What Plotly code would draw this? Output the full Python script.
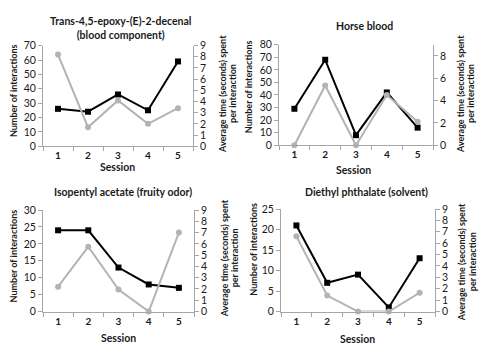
import plotly.graph_objects as go

sessions = ["1", "2", "3", "4", "5"]

titles = [
    "Trans-4,5-epoxy-(E)-2-decenal<br>(blood component)",
    "Horse blood",
    "Isopentyl acetate (fruity odor)",
    "Diethyl phthalate (solvent)",
]

interactions_epoxy = [26, 24, 36, 25, 59]
time_epoxy = [8.2, 1.7, 4.1, 2.0, 3.4]

interactions_horse = [29, 68, 8, 42, 14]
time_horse = [0.0, 5.35, 0.0, 4.5, 2.1]

interactions_isopentyl = [24, 24, 13, 8, 7]
time_isopentyl = [2.2, 5.75, 1.95, 0.0, 7.0]

interactions_diethyl = [21, 7, 9, 1, 13]
time_diethyl = [6.6, 1.4, 0.0, 0.0, 1.65]

left_ranges = [[0, 70], [0, 80], [0, 30], [0, 25]]
left_dticks = [10, 10, 5, 5]
right_dticks = [1, 2, 1, 1]

left_title = "Number of interactions"
right_title_lines = ["Average time (seconds) spent", "per interaction"]
x_title = "Session"

W, H = 483, 362
FONT = "Lato"
TXT = "#1a1a1a"
AX = "#a6a6a6"
BLACK = "#000000"
GREY = "#b3b3b3"

# panel geometry in pixels: (x0, x1, ytop, ybottom)
panels = [
    (43, 193, 41, 145),
    (279, 433, 40, 144),
    (43, 194, 211, 316),
    (281, 435, 210, 316),
]
# text positions (pixels)
title_pos = [(120, 23), (364, 21), (123, 192), (366, 192)]
session_pos = [(117, 167), (353, 170), (118, 343), (357, 344)]
left_title_pos = [(13, 88), (248, 84), (13, 259), (254, 251)]
# (x of line 1, x of line 2, y center)
right_title_pos = [(223, 233, 91), (461, 471, 91), (224, 234, 261), (461, 472, 265)]

series = [
    (interactions_epoxy, time_epoxy),
    (interactions_horse, time_horse),
    (interactions_isopentyl, time_isopentyl),
    (interactions_diethyl, time_diethyl),
]

fig = go.Figure()
layout = dict(
    width=W, height=H,
    margin=dict(l=0, r=0, t=0, b=0),
    paper_bgcolor="white", plot_bgcolor="white",
    showlegend=False,
    font=dict(family=FONT, size=10, color=TXT),
)
annotations = []


def px(x):
    return x / W


def py(y):
    return 1 - y / H


for i, ((x0, x1, yt, yb), (inter, tm)) in enumerate(zip(panels, series)):
    n = i + 1
    xa = "x" if n == 1 else f"x{n}"
    yl_n = 2 * i + 1
    yr_n = 2 * i + 2
    yl = "y" if yl_n == 1 else f"y{yl_n}"
    yr = f"y{yr_n}"
    xkey = "xaxis" if n == 1 else f"xaxis{n}"
    ylkey = "yaxis" if yl_n == 1 else f"yaxis{yl_n}"
    yrkey = f"yaxis{yr_n}"

    layout[xkey] = dict(
        domain=[px(x0), px(x1)], anchor=yl, type="category",
        tickson="boundaries", ticks="outside", ticklen=4, tickcolor=AX,
        showline=True, linecolor=AX, linewidth=1, showgrid=False,
        tickfont=dict(family=FONT, size=10, color=TXT, weight="bold"),
        range=[-0.5, 4.5], fixedrange=True,
    )
    layout[ylkey] = dict(
        domain=[py(yb), py(yt)], anchor=xa, range=left_ranges[i],
        dtick=left_dticks[i], ticks="outside", ticklen=4, tickcolor=AX,
        showline=True, linecolor=AX, linewidth=1, showgrid=False,
        zeroline=False, tickfont=dict(family=FONT, size=10.5, color=TXT),
    )
    layout[yrkey] = dict(
        overlaying=yl, side="right", anchor=xa, range=[0, 9],
        dtick=right_dticks[i], ticks="outside", ticklen=4, tickcolor=AX,
        showline=True, linecolor=AX, linewidth=1, showgrid=False,
        zeroline=False, tickfont=dict(family=FONT, size=10.5, color=TXT),
    )

    fig.add_trace(go.Scatter(
        x=sessions, y=inter, xaxis=xa, yaxis=yl, mode="lines+markers",
        line=dict(color=BLACK, width=2),
        marker=dict(symbol="square", size=6, color=BLACK),
        cliponaxis=False,
    ))
    fig.add_trace(go.Scatter(
        x=sessions, y=tm, xaxis=xa, yaxis=yr, mode="lines+markers",
        line=dict(color=GREY, width=2),
        marker=dict(symbol="circle", size=6, color=GREY),
        cliponaxis=False,
    ))

    tx, ty = title_pos[i]
    annotations.append(dict(
        text=f"<b>{titles[i]}</b>", x=px(tx), y=py(ty), xref="paper",
        yref="paper", xanchor="center", yanchor="middle", showarrow=False,
        font=dict(family=FONT, size=10.5, color=TXT),
    ))
    sx, sy = session_pos[i]
    annotations.append(dict(
        text=f"<b>{x_title}</b>", x=px(sx), y=py(sy), xref="paper",
        yref="paper", xanchor="center", yanchor="middle", showarrow=False,
        font=dict(family=FONT, size=10.5, color=TXT),
    ))
    lx, ly = left_title_pos[i]
    annotations.append(dict(
        text=f"<b>{left_title}</b>", x=px(lx), y=py(ly), xref="paper",
        yref="paper", xanchor="center", yanchor="middle", showarrow=False,
        textangle=-90, font=dict(family=FONT, size=9, color=TXT),
    ))
    r1, r2, ry = right_title_pos[i]
    for rx, line in zip((r1, r2), right_title_lines):
        annotations.append(dict(
            text=f"<b>{line}</b>", x=px(rx), y=py(ry), xref="paper",
            yref="paper", xanchor="center", yanchor="middle", showarrow=False,
            textangle=-90, font=dict(family=FONT, size=9, color=TXT),
        ))

layout["annotations"] = annotations
fig.update_layout(**layout)
fig.write_html(
    "out.html",
    config={"displayModeBar": False},
    post_script="document.body.style.margin='0';document.body.style.overflow='hidden';",
)
